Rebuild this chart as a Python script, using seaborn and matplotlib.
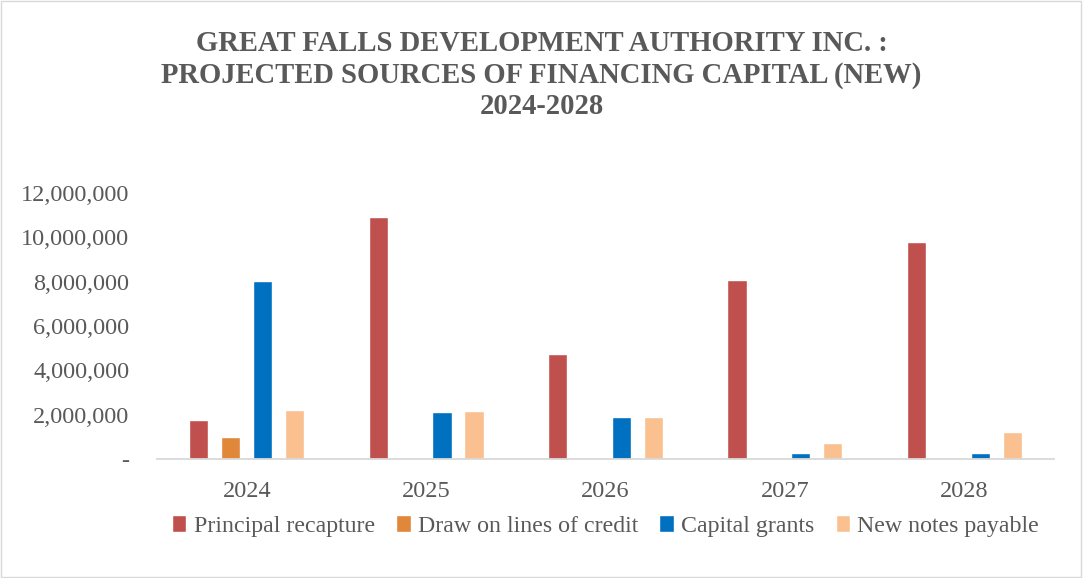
import matplotlib
matplotlib.use("Agg")
import matplotlib.pyplot as plt
import seaborn as sns
import pandas as pd
from matplotlib.ticker import FuncFormatter

years = ["2024", "2025", "2026", "2027", "2028"]
series = ["Principal recapture", "Draw on lines of credit", "Capital grants", "New notes payable"]
principal = [1780000, 10920000, 4720000, 8070000, 9770000]
draw_credit = [1000000, 0, 0, 0, 0]
capital_grants = [8030000, 2100000, 1880000, 280000, 280000]
new_notes = [2230000, 2150000, 1910000, 700000, 1220000]
colors = ["#C0504D", "#E0873A", "#0070C0", "#FAC090"]

rows = []
for s, vals in zip(series, [principal, draw_credit, capital_grants, new_notes]):
    for y, v in zip(years, vals):
        rows.append({"Year": y, "Series": s, "Value": v})
df = pd.DataFrame(rows)

sns.set_theme(style="white")
plt.rcParams['font.family'] = ['Liberation Serif', 'DejaVu Serif']

fig = plt.figure(figsize=(10.83, 5.78), dpi=100)
ax = fig.add_axes([157/1083, 1 - 459/578, 897/1083, 266/578])
sns.barplot(data=df, x="Year", y="Value", hue="Series", palette=colors,
            width=0.713, gap=0.40, ax=ax, legend=True, saturation=1)

ax.set_ylim(0, 12000000)
ax.set_yticks(range(0, 12000001, 2000000))
ax.yaxis.set_major_formatter(FuncFormatter(lambda v, p: "-" if v == 0 else f"{int(v):,}"))
ax.set_xlabel("")
ax.set_ylabel("")
for side in ["top", "right", "left"]:
    ax.spines[side].set_visible(False)
ax.spines["bottom"].set_color("#D9D9D9")
ax.spines["bottom"].set_linewidth(1.3)
ax.tick_params(axis="both", length=0, labelsize=17.5, colors="#595959")
ax.tick_params(axis="x", pad=16)
ax.tick_params(axis="y", pad=20)

handles, labels = ax.get_legend_handles_labels()
ax.legend(handles, labels, loc="upper center", bbox_to_anchor=(0.5, -0.175), ncol=4,
          frameon=False, fontsize=17.2, handlelength=0.6, handleheight=0.7,
          handletextpad=0.3, columnspacing=0.9, labelcolor="#595959",
          borderaxespad=0)

fig.text(0.5, 1 - 75/578, "GREAT FALLS DEVELOPMENT AUTHORITY INC. :\nPROJECTED SOURCES OF FINANCING CAPITAL (NEW)\n2024-2028",
         ha="center", va="center", fontsize=20.6, fontweight="bold", color="#595959",
         linespacing=1.22)

fig.patches.append(plt.Rectangle((0.001, 0.002), 0.997, 0.996, transform=fig.transFigure,
                                 fill=False, edgecolor="#D9D9D9", linewidth=1))
fig.savefig("out.png", dpi=100)
